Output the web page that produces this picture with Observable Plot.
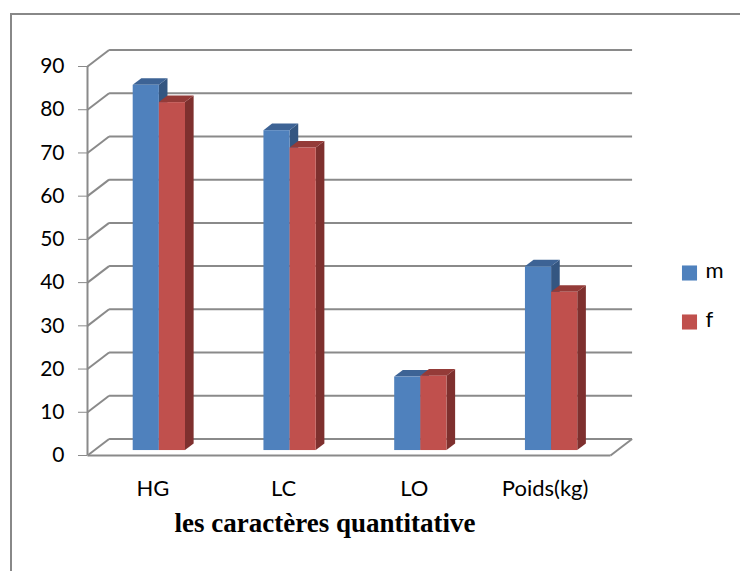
<!DOCTYPE html>
<html>
<head>
<meta charset="utf-8">
<script src="https://cdn.jsdelivr.net/npm/d3@7"></script>
<script src="https://cdn.jsdelivr.net/npm/@observablehq/plot@0.6"></script>
<style>
  html, body { margin: 0; padding: 0; background: #fff; }
  #wrap { position: relative; width: 740px; height: 571px; overflow: hidden; }
  #frame { position: absolute; left: 10px; top: 13px; width: 760px; height: 600px;
           border-top: 2px solid #888; border-left: 2px solid #888; box-sizing: border-box; pointer-events: none; }
  #chart svg text { fill: #000; }
</style>
</head>
<body>
<div id="wrap"><div id="chart"></div><div id="frame"></div></div>
<script>
// ---- data ----
const categories = ["HG", "LC", "LO", "Poids(kg)"];
const mValues = [84.5, 74, 17, 42.5];
const fValues = [80.5, 70, 17.2, 36.6];
const seriesNames = ["m", "f"];
const yTicks = [0, 10, 20, 30, 40, 50, 60, 70, 80, 90];
const axisTitle = "les caractères quantitative";

// ---- 3D projection parameters (scale units) ----
const DX = 0.165;   // depth offset of back wall along x
const DY = 3.82;    // depth offset of back wall along y
const BAR_W = 0.2;
const T0 = 0.3, T1 = 0.7; // bar depth span

const front = ["#4F81BD", "#C0504D"];
const top_ = ["#3D6395", "#943B38"];
const side = ["#345681", "#7E302E"];
const grid = "#8A8A8A";

const seriesValues = [mValues, fValues];
const bars = [];
categories.forEach((c, i) => {
  seriesValues.forEach((vals, s) => {
    const xl = i + 0.5 - BAR_W + s * BAR_W;
    bars.push({cat: c, i, s, v: vals[i], xl, xr: xl + BAR_W, key: c + "-" + s});
  });
});
const sideRows = bars.flatMap(b => [
  {key: b.key, s: b.s, x: b.xr + T0 * DX, y1: T0 * DY, y2: b.v + T0 * DY},
  {key: b.key, s: b.s, x: b.xr + T1 * DX, y1: T1 * DY, y2: b.v + T1 * DY}
]);
const topRows = bars.flatMap(b => [
  {key: b.key, s: b.s, y: b.v + T0 * DY, x1: b.xl + T0 * DX, x2: b.xr + T0 * DX},
  {key: b.key, s: b.s, y: b.v + T1 * DY, x1: b.xl + T1 * DX, x2: b.xr + T1 * DX}
]);

const barMarks = [];
[0, 1].forEach(s => {
  barMarks.push(Plot.areaY(sideRows.filter(d => d.s === s), {x: "x", y1: "y1", y2: "y2", z: "key", fill: side[s]}));
  barMarks.push(Plot.areaX(topRows.filter(d => d.s === s), {y: "y", x1: "x1", x2: "x2", z: "key", fill: top_[s]}));
  barMarks.push(Plot.rect(bars.filter(d => d.s === s), {
    x1: d => d.xl + T0 * DX, x2: d => d.xr + T0 * DX,
    y1: T0 * DY, y2: d => d.v + T0 * DY, fill: front[s]
  }));
});

const legendMarks = [];
seriesNames.forEach((name, s) => {
  const dy = 12 + s * 49;
  legendMarks.push(Plot.dot([name], {frameAnchor: "right", dx: 79, dy, symbol: "square", r: 8.5, fill: front[s], stroke: null}));
  legendMarks.push(Plot.text([name], {frameAnchor: "right", text: d => d, dx: 95, dy: dy - 2, textAnchor: "start", fontSize: 22}));
});

const chart = Plot.plot({
  width: 740,
  height: 571,
  marginLeft: 87,
  marginRight: 130,
  marginTop: 66,
  marginBottom: 116,
  style: {fontFamily: "Lato, 'Noto Sans', sans-serif", fontSize: "21px", color: grid, background: "#fff"},
  x: {domain: [0, 4], axis: null},
  y: {domain: [0, 90], ticks: yTicks, tickSize: 9, tickPadding: 14, label: null, tickFormat: d => String(d)},
  marks: [
    // back wall gridlines
    Plot.link(yTicks, {x1: DX, x2: 4 + DX, y1: t => t + DY, y2: t => t + DY, stroke: grid, strokeWidth: 2}),
    // left wall diagonals
    Plot.link(yTicks, {x1: 0, y1: t => t, x2: DX, y2: t => t + DY, stroke: grid, strokeWidth: 2}),
    // floor front edge and right edge
    Plot.link([0], {x1: 0, x2: 4, y1: 0, y2: 0, stroke: grid, strokeWidth: 2}),
    Plot.link([0], {x1: 4, y1: 0, x2: 4 + DX, y2: DY, stroke: grid, strokeWidth: 2}),
    // front vertical axis line
    Plot.ruleX([0], {y1: 0, y2: 90, stroke: grid, strokeWidth: 2}),
    ...barMarks,
    // category labels
    Plot.text(categories, {x: (d, i) => i + 0.5, frameAnchor: "bottom", dy: 40, text: d => d, fontSize: 22}),
    // axis title
    Plot.text([axisTitle], {frameAnchor: "bottom", dx: -24, dy: 76, text: d => d,
      fontFamily: "'Liberation Serif', 'DejaVu Serif', serif", fontWeight: "bold", fontSize: 27}),
    ...legendMarks
  ]
});
document.getElementById("chart").appendChild(chart);
</script>
</body>
</html>
